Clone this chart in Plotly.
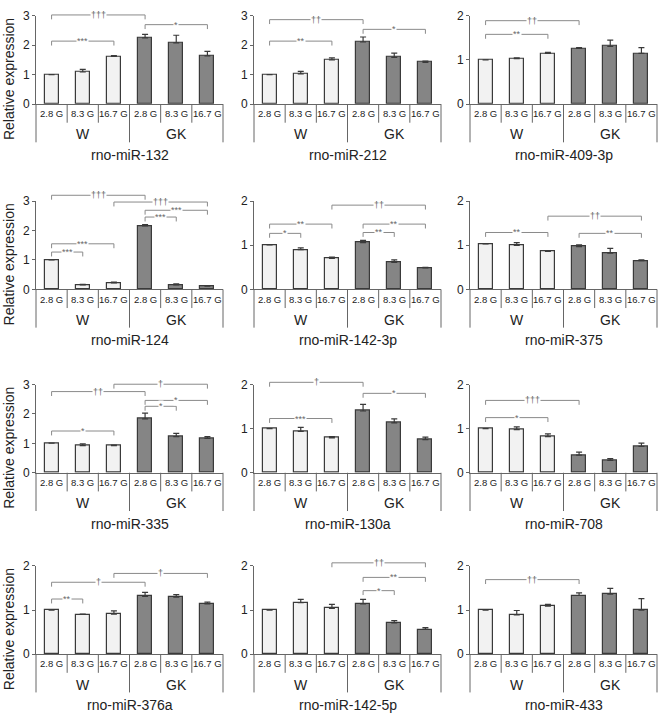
import plotly.graph_objects as go
from plotly.subplots import make_subplots

# data
genes = ['rno-miR-132', 'rno-miR-212', 'rno-miR-409-3p',
         'rno-miR-124', 'rno-miR-142-3p', 'rno-miR-375',
         'rno-miR-335', 'rno-miR-130a', 'rno-miR-708',
         'rno-miR-376a', 'rno-miR-142-5p', 'rno-miR-433']
glucose = ['2.8 G', '8.3 G', '16.7 G']
strains = ['W', 'GK']

means = [
    [1.00, 1.09, 1.62, 2.25, 2.08, 1.64],
    [1.00, 1.03, 1.50, 2.11, 1.59, 1.42],
    [1.00, 1.03, 1.15, 1.26, 1.31, 1.15],
    [1.00, 0.15, 0.22, 2.16, 0.15, 0.11],
    [1.01, 0.90, 0.70, 1.06, 0.61, 0.49],
    [1.03, 1.00, 0.86, 0.97, 0.82, 0.65],
    [1.01, 0.92, 0.92, 1.83, 1.23, 1.17],
    [1.00, 0.94, 0.79, 1.40, 1.13, 0.75],
    [1.00, 0.98, 0.82, 0.40, 0.28, 0.60],
    [1.00, 0.90, 0.91, 1.31, 1.29, 1.14],
    [1.00, 1.17, 1.04, 1.14, 0.71, 0.56],
    [1.00, 0.89, 1.09, 1.33, 1.36, 1.00],
]
sems = [
    [0, 0.09, 0.03, 0.12, 0.26, 0.15],
    [0, 0.08, 0.07, 0.17, 0.14, 0.04],
    [0, 0.02, 0.02, 0.02, 0.14, 0.13],
    [0, 0.02, 0.03, 0.04, 0.04, 0.02],
    [0, 0.04, 0.03, 0.05, 0.06, 0.01],
    [0, 0.06, 0.02, 0.04, 0.11, 0.02],
    [0, 0.06, 0.02, 0.20, 0.11, 0.06],
    [0, 0.09, 0.03, 0.15, 0.09, 0.06],
    [0, 0.06, 0.06, 0.07, 0.04, 0.07],
    [0, 0.01, 0.07, 0.09, 0.06, 0.04],
    [0, 0.07, 0.09, 0.10, 0.05, 0.04],
    [0, 0.10, 0.04, 0.06, 0.13, 0.26],
]
ymax = [3, 3, 2, 3, 2, 2, 3, 2, 2, 2, 2, 2]

# significance brackets: (from bar, to bar, height, label)
brackets = [
    [(0, 3, 3.03, '†††'), (0, 2, 2.14, '***'), (3, 5, 2.70, '*')],
    [(0, 3, 2.87, '††'), (0, 2, 2.14, '**'), (3, 5, 2.54, '*')],
    [(0, 3, 1.89, '††'), (0, 2, 1.58, '**')],
    [(0, 3, 3.20, '†††'), (2, 5, 2.97, '†††'), (3, 5, 2.69, '***'),
     (3, 4, 2.46, '***'), (0, 2, 1.55, '***'), (0, 1, 1.27, '***')],
    [(2, 5, 1.91, '††'), (0, 2, 1.48, '**'), (0, 1, 1.27, '*'),
     (3, 5, 1.48, '**'), (3, 4, 1.29, '**')],
    [(2, 5, 1.66, '††'), (0, 2, 1.29, '**'), (3, 5, 1.27, '**')],
    [(2, 5, 3.01, '†'), (0, 3, 2.76, '††'), (3, 5, 2.46, '*'),
     (3, 4, 2.26, '*'), (0, 2, 1.42, '*')],
    [(0, 3, 2.05, '†'), (3, 5, 1.80, '*'), (0, 2, 1.23, '***')],
    [(0, 3, 1.64, '†††'), (0, 2, 1.25, '*')],
    [(2, 5, 1.83, '†'), (0, 3, 1.63, '†'), (0, 1, 1.25, '**')],
    [(2, 5, 2.07, '††'), (3, 5, 1.74, '**'), (3, 4, 1.44, '*')],
    [(0, 3, 1.69, '††')],
]

W, H = 661, 721
col_left = [36, 254, 470]
col_w = 187
row_zero = [99, 288, 475, 660]
plot_h = 90
FONT = 'Liberation Sans, Arial, sans-serif'
LINE = '#666666'

fig = make_subplots(rows=4, cols=3)

shapes = []
annots = []


def seg(xr, yr, x0, y0, x1, y1, color=LINE):
    shapes.append(dict(type='line', xref=xr, yref=yr, x0=x0, y0=y0, x1=x1, y1=y1,
                       line=dict(color=color, width=1)))


def label(xr, yr, x, y, text, size, color='#222', **kw):
    annots.append(dict(xref=xr, yref=yr, x=x, y=y, text=text, showarrow=False,
                       xanchor='center', yanchor='middle',
                       font=dict(size=size, color=color, family=kw.pop('family', FONT)),
                       **kw))


for k, gene in enumerate(genes):
    r, c = k // 3, k % 3
    idx = '' if k == 0 else str(k + 1)
    xr, yr = f'x{idx} domain', f'y{idx} domain'
    top = ymax[k]

    for g, (name, col) in enumerate(zip(strains, ['#f2f2f2', '#858585'])):
        sl = slice(3 * g, 3 * g + 3)
        fig.add_trace(go.Bar(
            x=list(range(3 * g, 3 * g + 3)), y=means[k][sl], name=name, width=0.45,
            marker=dict(color=col, line=dict(color='#3a3a3a', width=1.2)),
            error_y=dict(type='data', array=sems[k][sl], arrayminus=[0, 0, 0],
                         symmetric=False, color='#3a3a3a', thickness=1.2, width=3),
        ), row=r + 1, col=c + 1)

    x0 = col_left[c]
    z = row_zero[r]
    fig.update_layout(**{
        f'xaxis{idx}': dict(domain=[x0 / W, (x0 + col_w) / W], range=[-0.5, 5.5],
                            showticklabels=False, ticks='', showgrid=False,
                            zeroline=False, showline=True, linecolor=LINE),
        f'yaxis{idx}': dict(domain=[1 - z / H, 1 - (z - plot_h) / H],
                            range=[0, top], tickvals=list(range(top + 1)),
                            ticks='outside', ticklen=3, tickcolor=LINE,
                            showgrid=False, zeroline=False, showline=True,
                            linecolor=LINE, tickfont=dict(size=12, color='#222')),
    })

    def px(p):
        return -p / plot_h

    # category table under the bars
    for xd in [1 / 6, 2 / 6, 4 / 6, 5 / 6]:
        seg(xr, yr, xd, 0, xd, px(19))
    for xd in [0, 0.5, 1]:
        seg(xr, yr, xd, 0, xd, px(39))
    for i in range(6):
        label(xr, yr, (i + 0.5) / 6, px(10), glucose[i % 3], 9.5,
              family='Liberation Sans Narrow, ' + FONT)
    for g, name in enumerate(strains):
        label(xr, yr, 0.25 + 0.5 * g, px(31), name, 14)
    label(xr, yr, 0.5, px(52), gene, 14)
    if c == 0:
        label('paper', yr, 9 / W, 25.5 / plot_h, 'Relative expression', 14,
              textangle=-90)

    # significance brackets
    tick = 4.5 / plot_h
    for a, b, h, lab in brackets[k]:
        xa, xb, yh = (a + 0.5) / 6, (b + 0.5) / 6, h / top
        seg(xr, yr, xa, yh, xb, yh, '#8a8a8a')
        seg(xr, yr, xa, yh, xa, yh - tick, '#8a8a8a')
        seg(xr, yr, xb, yh, xb, yh - tick, '#8a8a8a')
        label(xr, yr, (xa + xb) / 2, yh, lab, 9, '#666',
              bgcolor='white', borderpad=0)

fig.update_layout(
    width=W, height=H, margin=dict(l=0, r=0, t=0, b=0),
    plot_bgcolor='white', paper_bgcolor='white', showlegend=False,
    font=dict(family=FONT, color='#222'), bargap=0,
    shapes=shapes, annotations=annots,
)

# drop the default page margin so the figure sits at the window's corner
fig.write_html('out.html', config={'displayModeBar': False},
               post_script="document.body.style.margin='0';")
